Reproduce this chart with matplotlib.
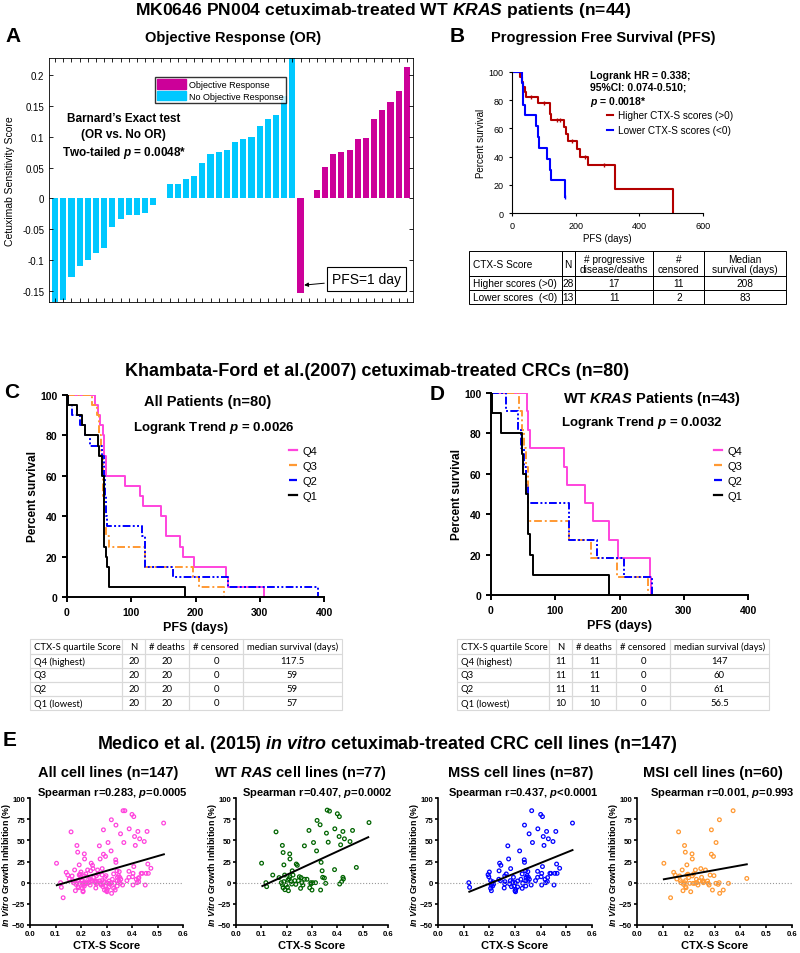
import numpy as np
import matplotlib
matplotlib.use('Agg')
import matplotlib.pyplot as plt
from matplotlib.patches import Patch, Rectangle
from matplotlib.lines import Line2D

plt.rcParams['font.family'] = ['Liberation Sans', 'DejaVu Sans']
plt.rcParams['mathtext.fontset'] = 'custom'
plt.rcParams['mathtext.rm'] = 'Liberation Sans'
plt.rcParams['mathtext.it'] = 'Liberation Sans:italic'
plt.rcParams['mathtext.bf'] = 'Liberation Sans:bold'
plt.rcParams['mathtext.bfit'] = 'Liberation Sans:italic:bold'

# ---------------- data ----------------
# panel A: cetuximab sensitivity score per patient (sorted within group)
or_scores = [-0.172, -0.165, -0.128, -0.109, -0.100, -0.088, -0.080, -0.047, -0.034,
             -0.027, -0.027, -0.023, -0.011, 0.0,
             0.023, 0.024, 0.031, 0.037, 0.058, 0.072, 0.076, 0.079, 0.091, 0.096,
             0.100, 0.117, 0.129, 0.135, 0.166, 0.235,
             -0.153, 0.0, 0.014, 0.051, 0.073, 0.076, 0.079, 0.096, 0.098, 0.129,
             0.144, 0.157, 0.174, 0.213]
or_response = [0] * 30 + [1] * 14

# panel B: KM curves (time of step, survival after step)
hi_t = [0, 24, 30, 35, 40, 45, 82, 118, 120, 124, 162, 171, 176, 204, 213, 240, 324, 506]
hi_s = [100, 96.4, 92.9, 89.3, 85.7, 82.1, 78.3, 74.4, 70.2, 66.2, 61.2, 56.3, 51.2,
        45.6, 40, 34.3, 17.1, 0]
hi_cens = [60, 100, 140, 150, 190, 228, 290]
lo_t = [0, 31, 33, 35, 40, 76, 82, 85, 110, 118, 124, 167]
lo_s = [100, 92.3, 84.6, 76.9, 69.2, 61.5, 53.8, 46.2, 38.5, 30.8, 23.1, 11.5]
lo_cens = [167]

tableB_header = ['CTX-S Score', 'N', '# progressive\ndisease/deaths', '#\ncensored',
                 'Median\nsurvival (days)']
tableB_rows = [['Higher scores (>0)', '28', '17', '11', '208'],
               ['Lower scores  (<0)', '13', '11', '2', '83']]

# panel C: all patients, quartiles
c_q4_t = [0, 43, 48, 52, 56, 58, 61, 90, 113, 118, 147, 154, 176, 181, 197, 248, 250, 307]
c_q4_s = [100, 95, 90, 85, 80, 70, 60, 55, 50, 45, 40, 30, 25, 20, 15, 10, 5, 0]
c_q3_t = [0, 39, 46, 50, 53, 56, 58, 60, 65, 121, 196, 206, 244]
c_q3_s = [100, 95, 90, 80, 70, 50, 35, 30, 25, 15, 10, 5, 0]
c_q2_t = [0, 2, 8, 20, 28, 36, 55, 57, 59, 60, 62, 117, 121, 165, 251, 390]
c_q2_s = [100, 95, 90, 85, 80, 75, 70, 60, 50, 40, 35, 30, 15, 10, 5, 0]
c_q1_t = [0, 1, 15, 24, 28, 48, 50, 54, 57, 58, 60, 62, 66, 183]
c_q1_s = [100, 95, 90, 85, 80, 75, 70, 60, 40, 25, 20, 15, 5, 0]

# panel D: WT KRAS patients, quartiles
d_q4_t = [0, 56, 58, 60, 114, 118, 146, 159, 183, 198, 247, 249]
d_q4_s = [100, 90.9, 81.8, 72.7, 63.6, 54.5, 45.5, 36.4, 27.3, 18.2, 9.1, 0]
d_q3_t = [0, 43, 48, 52, 55, 57, 58, 122, 155, 196, 244]
d_q3_s = [100, 90.9, 81.8, 72.7, 63.6, 45.5, 36.4, 27.3, 18.2, 9.1, 0]
d_q2_t = [0, 24, 42, 46, 52, 55, 58, 122, 165, 207, 251]
d_q2_s = [100, 90.9, 81.8, 72.7, 63.6, 54.5, 45.5, 27.3, 18.2, 9.1, 0]
d_q1_t = [0, 1, 15, 48, 50, 55, 57, 61, 65, 183]
d_q1_s = [100, 90, 80, 70, 60, 50, 30, 20, 10, 0]

quart_header = ['CTX-S quartile Score', 'N', '# deaths', '# censored', 'median survival (days)']
tableC_rows = [['Q4 (highest)', '20', '20', '0', '117.5'],
               ['Q3', '20', '20', '0', '59'],
               ['Q2', '20', '20', '0', '59'],
               ['Q1 (lowest)', '20', '20', '0', '57']]
tableD_rows = [['Q4 (highest)', '11', '11', '0', '147'],
               ['Q3', '11', '11', '0', '60'],
               ['Q2', '11', '11', '0', '61'],
               ['Q1 (lowest)', '10', '10', '0', '56.5']]

# panel E: in vitro growth inhibition vs CTX-S score
mss_x = [0.12, 0.123, 0.195, 0.2, 0.198, 0.205, 0.207, 0.205, 0.208, 0.21,
         0.214, 0.217, 0.213, 0.24, 0.245, 0.238, 0.237, 0.243, 0.258, 0.261,
         0.26, 0.266, 0.272, 0.275, 0.283, 0.282, 0.279, 0.286, 0.291, 0.294,
         0.296, 0.3, 0.302, 0.303, 0.301, 0.31, 0.318, 0.323, 0.328, 0.33,
         0.336, 0.337, 0.337, 0.328, 0.341, 0.342, 0.343, 0.342, 0.347, 0.35,
         0.355, 0.352, 0.356, 0.365, 0.368, 0.363, 0.38, 0.388, 0.389, 0.388,
         0.4, 0.407, 0.404, 0.402, 0.404, 0.41, 0.413, 0.407, 0.417, 0.42,
         0.423, 0.426, 0.43, 0.427, 0.436, 0.448, 0.452, 0.455, 0.462, 0.459,
         0.464, 0.474, 0.524, 0.44, 0.26, 0.35, 0.31]
mss_y = [0, -5.5, 9.5, 12.6, 7, 2.4, -3, -6.7, -9.5, -1,
         1, -1.6, -4, 23, 20.5, 14, 4, 2.4, -6.3, 1.2,
         -1.6, 10.3, 43.5, 28, 16.6, 2.4, -1.6, -4.7, 0.8, 6.3,
         -4, -9.5, -10.7, -8, 0, 2, 37.5, 4, 10.3, -0.8,
         27, 24, 68, -6.7, 14, 2.4, 6.3, -4, 8.3, 1.6,
         57.7, 6.3, 4, 85, 47.4, -2.8, 2.4, 13.4, 63.6, 6.3,
         80.6, 78, 11, 7, -2.8, 54.5, 44, 19, 4, 0,
         60.5, 1.2, 51.8, 6, 11, 48.6, -2.8, 11, 22, 60.5,
         11, 17, 70.4, 11, 8, 13, -5]
msi_x = [0.104, 0.13, 0.142, 0.148, 0.154, 0.161, 0.165, 0.168, 0.175, 0.178,
         0.18, 0.184, 0.187, 0.184, 0.188, 0.19, 0.193, 0.193, 0.197, 0.204,
         0.208, 0.213, 0.214, 0.214, 0.219, 0.223, 0.226, 0.23, 0.232, 0.236,
         0.24, 0.247, 0.25, 0.255, 0.257, 0.258, 0.265, 0.273, 0.276, 0.279,
         0.283, 0.288, 0.288, 0.292, 0.296, 0.298, 0.306, 0.314, 0.318, 0.319,
         0.32, 0.334, 0.354, 0.372, 0.425, 0.305, 0.217, 0.17, 0.188, 0.2]
msi_y = [22.9, -17.8, 12.2, 9, 4.3, 60, 7.9, 2.4, 15, -9.5,
         -2, 43.9, 36, 0, -4.7, -6, 21, 9, 10, -0.8,
         -10.7, 34, 28, 8, 10.3, -0.8, 15, 4, 0, -2.8,
         2, 16.6, 6.3, 1.2, 0, 2, 15, 2, -0.8, -2.8,
         9, 62.4, 33.6, -8.7, 31, 8.3, 47.4, -2, 0, 74.3,
         -12.6, -8.7, -0.8, 85, 5, -0.8, -0.8, 0, 2.4, 6]
wt_x = [0.101, 0.118, 0.121, 0.145, 0.158, 0.17, 0.179, 0.183, 0.186, 0.183,
        0.186, 0.189, 0.192, 0.189, 0.193, 0.197, 0.203, 0.207, 0.209, 0.212,
        0.213, 0.213, 0.218, 0.222, 0.225, 0.232, 0.236, 0.238, 0.242, 0.246,
        0.25, 0.255, 0.26, 0.264, 0.27, 0.288, 0.291, 0.296, 0.3, 0.303,
        0.306, 0.314, 0.318, 0.32, 0.332, 0.334, 0.336, 0.34, 0.342, 0.349,
        0.354, 0.357, 0.364, 0.36, 0.369, 0.39, 0.389, 0.4, 0.408, 0.407,
        0.409, 0.413, 0.417, 0.422, 0.424, 0.428, 0.422, 0.45, 0.46, 0.475,
        0.525, 0.205, 0.22, 0.28, 0.295, 0.27, 0.257]
wt_y = [23, 0, -4.7, 9, 60, 6, 0, 44, 35.6, -2.4,
        -6, 21, 9, 1.2, -8.3, -2.8, -5.5, -9.5, 4.7, 34,
        28, 7, 1.2, 14, 9, 2.4, -2, 22, 20.5, 2.4,
        7, -6.7, 0, -2.8, 43.5, 61.7, -6, -1.6, -8.7, 0,
        47.4, 0, 37.5, 73.5, 68.4, -8.7, 24, 14, 6.3, 5.5,
        -0.8, 58.5, 47.8, 85.7, 84.5, 63.6, 15.4, 81.4, 78, 54.5,
        -1.6, 44.7, 1.2, 60.5, 4.3, 51.8, 6.3, 48.6, 61.7, 18,
        71, 3, -1.6, 4, 0, 4, 6]
# fitted regression lines (end points)
fit_all = ([0.105, 0.525], [-3, 33.5])
fit_wt = ([0.104, 0.522], [-4, 53.7])
fit_mss = ([0.122, 0.524], [-10.7, 38.5])
fit_msi = ([0.104, 0.425], [4, 21.7])

# ---------------- figure ----------------
W, H = 800, 954
fig = plt.figure(figsize=(W / 100, H / 100), dpi=100)


def rect(x0, y0, x1, y1):
    return [x0 / W, 1 - y1 / H, (x1 - x0) / W, (y1 - y0) / H]


def ftext(x, y, s, **kw):
    kw.setdefault('ha', 'center')
    kw.setdefault('va', 'center')
    fig.text(x / W, 1 - y / H, s, **kw)


def prism(ax, lw=1.3):
    ax.spines['top'].set_visible(False)
    ax.spines['right'].set_visible(False)
    ax.spines['left'].set_linewidth(lw)
    ax.spines['bottom'].set_linewidth(lw)
    ax.tick_params(width=lw, length=3.5)


def surv_at(t, s, c):
    i = np.searchsorted(t, c, side='right') - 1
    return s[i]


def draw_table(ax, header, rows, widths, heights, edge, fs, family, lw=0.8):
    ax.set_xlim(0, 1)
    ax.set_ylim(sum(heights), 0)
    ax.axis('off')
    x_edges = np.concatenate([[0], np.cumsum(widths)])
    x_edges = x_edges / x_edges[-1]
    y_edges = np.concatenate([[0], np.cumsum(heights)])
    for r, row in enumerate([header] + rows):
        for c, txt in enumerate(row):
            x0, x1 = x_edges[c], x_edges[c + 1]
            y0, y1 = y_edges[r], y_edges[r + 1]
            ax.add_patch(Rectangle((x0, y0), x1 - x0, y1 - y0, fill=False,
                                   edgecolor=edge, lw=lw, clip_on=False))
            if c == 0:
                ax.text(x0 + 0.012, (y0 + y1) / 2, txt, ha='left', va='center',
                        fontsize=fs, family=family)
            else:
                ax.text((x0 + x1) / 2, (y0 + y1) / 2, txt, ha='center', va='center',
                        fontsize=fs, family=family, linespacing=1.0)


# titles
ftext(383, 10, r'MK0646 PN004 cetuximab-treated WT $\mathbfit{KRAS}$ patients (n=44)',
      fontsize=12.6, fontweight='bold')
ftext(377, 372, 'Khambata-Ford et al.(2007) cetuximab-treated CRCs (n=80)',
      fontsize=13, fontweight='bold')
ftext(387, 745, r'Medico et al. (2015) $\mathbfit{in\ vitro}$ cetuximab-treated CRC cell lines (n=147)',
      fontsize=12.9, fontweight='bold')
for lab, x, y in [('A', 13, 36), ('B', 457, 37), ('C', 12, 392), ('D', 437, 395), ('E', 10, 741)]:
    ftext(x, y, lab, fontsize=15, fontweight='bold')

# ---- panel A ----
mag_c = '#cc0099'
cyan_c = '#00c8ff'
axA = fig.add_axes(rect(49, 59, 413, 303))
idx = np.arange(len(or_scores))
axA.bar(idx, or_scores, width=0.75, color=[mag_c if r else cyan_c for r in or_response])
axA.set_xlim(-0.75, len(or_scores) - 0.25)
axA.set_ylim(-0.168, 0.228)
axA.set_xticks(idx)
axA.set_xticklabels([])
yt = [-0.15, -0.1, -0.05, 0, 0.05, 0.1, 0.15, 0.2]
axA.set_yticks(yt)
axA.set_yticklabels(['-0.15', '-0.1', '-0.05', '0', '0.05', '0.1', '0.15', '0.2'], fontsize=7)
axA.tick_params(direction='in', top=True, right=True, length=3, width=0.6)
for sp in axA.spines.values():
    sp.set_linewidth(0.6)
axA.set_ylabel('Cetuximab Sensitivity Score', fontsize=7.5, labelpad=5)
ftext(233, 38, 'Objective Response (OR)', fontsize=10.5, fontweight='bold')
axA.legend([Patch(color=mag_c), Patch(color=cyan_c)],
           ['Objective Response', 'No Objective Response'],
           loc='upper left', bbox_to_anchor=((155 - 49) / 364, 1 - (78 - 59) / 244),
           fontsize=6.5, frameon=True, fancybox=False, edgecolor='black',
           handlelength=3.2, handleheight=1.3, handletextpad=0.3, borderpad=0.25,
           labelspacing=0.15, borderaxespad=0)
axA.text(8.4, 0.101, "Barnard\u2019s Exact test\n(OR vs. No OR)\nTwo-tailed $\\mathbfit{p}$ = 0.0048*",
         ha='center', va='center', fontsize=8.5, fontweight='bold', linespacing=1.4)
neg_or = int(np.argmin(np.where(np.array(or_response) == 1, or_scores, 1)))
axA.annotate('PFS=1 day', xy=(neg_or + 0.1, or_scores[neg_or] + 0.012),
             xytext=(38.1, -0.131), ha='center', va='center', fontsize=10,
             bbox=dict(boxstyle='square,pad=0.35', fc='white', ec='black', lw=0.8),
             arrowprops=dict(arrowstyle='-|>', color='black', lw=0.7, mutation_scale=6))

# ---- panel B ----
red_c = '#b30000'
blue_c = '#0000ff'
ftext(603, 38, 'Progression Free Survival (PFS)', fontsize=10.5, fontweight='bold')
axB = fig.add_axes(rect(512, 73, 703, 214))
axB.step(hi_t, hi_s, where='post', color=red_c, lw=1.5)
axB.step(lo_t, lo_s, where='post', color=blue_c, lw=1.5)
axB.plot(hi_cens, [surv_at(hi_t, hi_s, c) for c in hi_cens], '|', color=red_c, ms=3, mew=1)
axB.plot(lo_cens, [surv_at(lo_t, lo_s, c) for c in lo_cens], '|', color=blue_c, ms=3, mew=1)
axB.set_xlim(0, 600)
axB.set_ylim(0, 100)
axB.set_xticks([0, 200, 400, 600])
axB.set_yticks([0, 20, 40, 60, 80, 100])
prism(axB, lw=0.8)
axB.tick_params(labelsize=6.5, length=2.5)
axB.set_ylabel('Percent survival', fontsize=7, labelpad=2)
axB.set_xlabel('PFS (days)', fontsize=7, labelpad=2)
axB.legend([Line2D([], [], color=red_c, lw=1.5), Line2D([], [], color=blue_c, lw=1.5)],
           ['Higher CTX-S scores (>0)', 'Lower CTX-S scores (<0)'],
           loc='upper left', bbox_to_anchor=((607 - 512) / 191, 1 - (111 - 73) / 141),
           frameon=False, fontsize=7.2, handlelength=0.6, handletextpad=0.5,
           borderaxespad=0, labelspacing=0.5, borderpad=0)
ftext(590, 90, 'Logrank HR = 0.338;\n95%CI: 0.074-0.510;\n$\\mathbfit{p}$ = 0.0018*',
      ha='left', fontsize=7.5, fontweight='bold', linespacing=1.25)

axTB = fig.add_axes(rect(469, 252, 786, 305))
draw_table(axTB, tableB_header, tableB_rows, [277, 40, 235, 152, 245], [25, 13, 14],
           'black', 7.3, 'Liberation Sans', lw=0.7)

# ---- panels C and D ----
q_styles = [('Q4', '#ff44dd', '-'), ('Q3', '#ff9933', (0, (4, 1.5, 1, 1.5))),
            ('Q2', '#0000ff', (0, (4, 1.2, 1, 1.2, 1, 1.2))), ('Q1', 'black', '-')]


def km_panel(box, curves, title, title_xy, p_txt, p_xy, leg_anchor):
    ax = fig.add_axes(rect(*box))
    handles = []
    for (t, s), (lab, col, ls) in zip(curves, q_styles):
        ax.step(t, s, where='post', color=col, ls=ls, lw=1.4)
        handles.append(Line2D([], [], color=col, ls=ls, lw=1.6))
    ax.set_xlim(0, 400)
    ax.set_ylim(0, 100)
    ax.set_xticks([0, 100, 200, 300, 400])
    ax.set_yticks([0, 20, 40, 60, 80, 100])
    prism(ax, lw=1.4)
    for lb in ax.get_xticklabels() + ax.get_yticklabels():
        lb.set_fontweight('bold')
        lb.set_fontsize(7.5)
    ax.set_ylabel('Percent survival', fontsize=8.5, fontweight='bold', labelpad=1)
    ax.set_xlabel('PFS (days)', fontsize=9, fontweight='bold', labelpad=3)
    ftext(*title_xy, title, fontsize=10.5, fontweight='bold')
    ftext(*p_xy, p_txt, fontsize=9.5, fontweight='bold')
    ax.legend(handles, [q[0] for q in q_styles], loc='upper left',
              bbox_to_anchor=leg_anchor, frameon=False, fontsize=8,
              handlelength=0.7, handletextpad=0.5, labelspacing=0.45,
              borderaxespad=0, borderpad=0)
    return ax


km_panel((67, 396, 324, 598),
         [(c_q4_t, c_q4_s), (c_q3_t, c_q3_s), (c_q2_t, c_q2_s), (c_q1_t, c_q1_s)],
         'All Patients (n=80)', (208, 402),
         r'Logrank Trend $\mathbfit{p}$ = 0.0026', (214, 428),
         ((289 - 67) / 257, 1 - (447 - 396) / 202))
km_panel((491, 394, 748, 596),
         [(d_q4_t, d_q4_s), (d_q3_t, d_q3_s), (d_q2_t, d_q2_s), (d_q1_t, d_q1_s)],
         r'WT $\mathbfit{KRAS}$ Patients (n=43)', (652, 399),
         r'Logrank Trend $\mathbfit{p}$ = 0.0032', (642, 423),
         ((714 - 491) / 257, 1 - (447 - 394) / 202))

axTC = fig.add_axes(rect(30, 640, 342, 711))
draw_table(axTC, quart_header, tableC_rows, [180, 45, 85, 105, 193], [15, 14, 14, 14, 14],
           '#d9d9d9', 6.8, 'Lato')
axTD = fig.add_axes(rect(457, 640, 769, 711))
draw_table(axTD, quart_header, tableD_rows, [180, 45, 85, 105, 193], [15, 14, 14, 14, 14],
           '#d9d9d9', 6.8, 'Lato')

# ---- panel E ----
all_x = mss_x + msi_x
all_y = mss_y + msi_y
e_panels = [
    ((30, 183), all_x, all_y, fit_all, '#ff44dd', 'All cell lines (n=147)',
     r'Spearman r=0.283, $\mathbfit{p}$=0.0005', 108, 112),
    ((236, 388), wt_x, wt_y, fit_wt, '#006400', r'WT $\mathbfit{RAS}$ cell lines (n=77)',
     r'Spearman r=0.407, $\mathbfit{p}$=0.0002', 300, 317),
    ((438, 592), mss_x, mss_y, fit_mss, '#0000ff', 'MSS cell lines (n=87)',
     r'Spearman r=0.437, $\mathbfit{p}$<0.0001', 521, 523),
    ((637, 792), msi_x, msi_y, fit_msi, '#ff9933', 'MSI cell lines (n=60)',
     r'Spearman r=0.001, $\mathbfit{p}$=0.993', 713, 722),
]
for (x0, x1), xs, ys, fit, col, ttl, sp, tx, sx in e_panels:
    ax = fig.add_axes(rect(x0, 799, x1, 926))
    ax.axhline(0, color='#999999', ls=':', lw=0.8)
    ax.scatter(xs, ys, s=7, facecolors='none', edgecolors=col, linewidths=0.9)
    ax.plot(fit[0], fit[1], color='black', lw=1.4)
    ax.set_xlim(0, 0.6)
    ax.set_ylim(-50, 100)
    ax.set_xticks(np.arange(0, 0.61, 0.1))
    ax.set_xticklabels(['0.0', '0.1', '0.2', '0.3', '0.4', '0.5', '0.6'])
    ax.set_yticks([-50, -25, 0, 25, 50, 75, 100])
    prism(ax, lw=1.2)
    ax.tick_params(length=2.5, pad=1)
    for lb in ax.get_xticklabels() + ax.get_yticklabels():
        lb.set_fontweight('bold')
        lb.set_fontsize(5.6)
    ax.set_xlabel('CTX-S Score', fontsize=8, fontweight='bold', labelpad=2)
    ax.set_ylabel(r'$\mathbfit{In\ Vitro}$ Growth Inhibition (%)', fontsize=6.4,
                  fontweight='bold')
    ax.yaxis.set_label_coords(-17 / (x1 - x0), 0.48)
    ftext(tx, 773, ttl, fontsize=10.5, fontweight='bold')
    ftext(sx, 793, sp, fontsize=8, fontweight='bold')

fig.savefig('out.png', dpi=100)
